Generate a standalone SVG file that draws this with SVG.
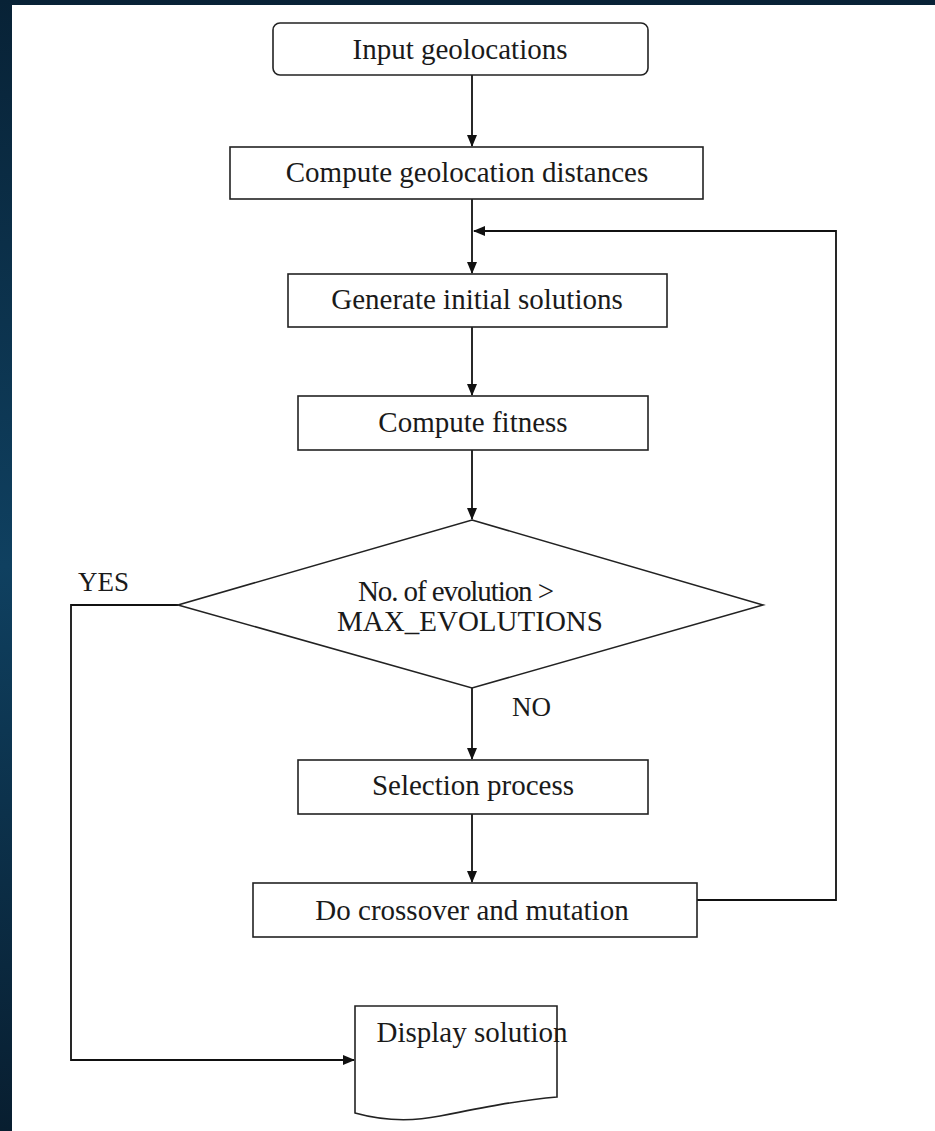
<svg xmlns="http://www.w3.org/2000/svg" width="935" height="1131" viewBox="0 0 935 1131">
<defs>
<linearGradient id="bg" x1="0" y1="0" x2="0" y2="1">
<stop offset="0" stop-color="#082236"/>
<stop offset="0.5" stop-color="#0f4060"/>
<stop offset="1" stop-color="#081e30"/>
</linearGradient>
<marker id="ah" markerWidth="12" markerHeight="10" refX="11" refY="5" orient="auto" markerUnits="userSpaceOnUse">
<path d="M0,0 L12,5 L0,10 Z" fill="#111"/>
</marker>
<style>
.box{fill:#fff;stroke:#222;stroke-width:1.6}
.t{font-family:"Liberation Serif","Times New Roman",serif;font-size:29px;fill:#1a1a1a;text-anchor:middle;dominant-baseline:central}
.lbl{font-family:"Liberation Serif","Times New Roman",serif;font-size:27px;fill:#1a1a1a;dominant-baseline:central}
.c{fill:none;stroke:#111;stroke-width:1.8}
</style>
</defs>
<rect x="0" y="0" width="935" height="1131" fill="url(#bg)"/>
<rect x="12" y="5" width="923" height="1126" fill="#ffffff"/>

<g id="connectors">
<line class="c" x1="472" y1="75" x2="472" y2="146" marker-end="url(#ah)"/>
<line class="c" x1="472" y1="199" x2="472" y2="273" marker-end="url(#ah)"/>
<polyline class="c" points="697,900 836,900 836,231 474,231" marker-end="url(#ah)"/>
<line class="c" x1="472" y1="327" x2="472" y2="395" marker-end="url(#ah)"/>
<line class="c" x1="472" y1="450" x2="472" y2="519" marker-end="url(#ah)"/>
<line class="c" x1="472" y1="688" x2="472" y2="759" marker-end="url(#ah)"/>
<line class="c" x1="472" y1="814" x2="472" y2="882" marker-end="url(#ah)"/>
<polyline class="c" points="178,605 71,605 71,1060 354,1060" marker-end="url(#ah)"/>
<text class="lbl" x="78" y="582">YES</text>
<text class="lbl" x="512" y="707">NO</text>
</g>

<g id="n-input">
<rect class="box" x="273" y="23" width="375" height="52" rx="7"/>
<text class="t" x="460" y="49">Input geolocations</text>
</g>
<g id="n-distances">
<rect class="box" x="230" y="147" width="473" height="52"/>
<text class="t" x="467" y="172">Compute geolocation distances</text>
</g>
<g id="n-generate">
<rect class="box" x="288" y="274" width="379" height="53"/>
<text class="t" x="477" y="299">Generate initial solutions</text>
</g>
<g id="n-fitness">
<rect class="box" x="298" y="396" width="350" height="54"/>
<text class="t" x="473" y="422">Compute fitness</text>
</g>
<g id="n-decision">
<polygon class="box" points="472,520 763,605 472,688 178,605"/>
<text class="t" x="456" y="591" textLength="196">No. of evolution &gt;</text>
<text class="t" x="470" y="621">MAX_EVOLUTIONS</text>
</g>
<g id="n-selection">
<rect class="box" x="298" y="760" width="350" height="54"/>
<text class="t" x="473" y="785">Selection process</text>
</g>
<g id="n-crossover">
<rect class="box" x="253" y="883" width="444" height="54"/>
<text class="t" x="472" y="910">Do crossover and mutation</text>
</g>
<g id="n-display">
<path class="box" d="M355,1006 L557,1006 L557,1097 C520,1100 480,1108 440,1116 C410,1122 380,1120 355,1113 Z"/>
<text class="t" x="472" y="1032">Display solution</text>
</g>
</svg>
